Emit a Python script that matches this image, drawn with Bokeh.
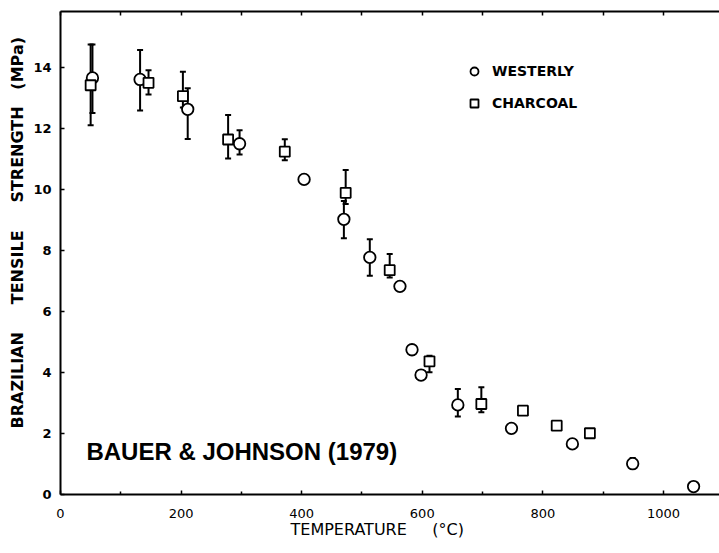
from bokeh.plotting import figure
from bokeh.models import (ColumnDataSource, Whisker, TeeHead, Legend, LegendItem,
                          Label, LinearAxis, FixedTicker, Title, CustomLabelingPolicy)
from bokeh.embed import file_html
from bokeh.resources import INLINE

# ---- data ----
westerly_T = [53, 132, 211, 297, 404, 470, 513, 563, 583, 598, 659, 748, 849, 949, 1050]
westerly_S = [13.67, 13.62, 12.64, 11.51, 10.34, 9.03, 7.78, 6.83, 4.75, 3.92, 2.94, 2.17, 1.66, 1.01, 0.26]
westerly_lo = [12.52, 12.60, 11.67, 11.16, None, 8.41, 7.18, None, None, None, 2.56, None, None, 1.01, None]
westerly_hi = [14.77, 14.59, 13.33, 11.95, None, 9.63, 8.38, None, None, None, 3.46, None, None, 1.20, None]

charcoal_T = [50, 146, 203, 278, 372, 473, 546, 612, 698, 767, 823, 878]
charcoal_S = [13.43, 13.51, 13.07, 11.65, 11.25, 9.90, 7.36, 4.37, 2.97, 2.75, 2.26, 2.01]
charcoal_lo = [12.12, 13.13, 12.70, 11.03, 10.97, 9.53, 7.12, 4.01, 2.70, None, None, None]
charcoal_hi = [14.77, 13.92, 13.87, 12.45, 11.66, 10.65, 7.89, 4.55, 3.52, None, None, None]

x_ticks = [0, 200, 400, 600, 800, 1000]
x_minor = [100, 300, 500, 700, 900]
y_ticks = [0, 2, 4, 6, 8, 10, 12, 14]

NB = "\u00a0"
x_title = "TEMPERATURE" + NB * 5 + "(°C)"
y_title = "BRAZILIAN" + NB * 5 + "TENSILE" + NB * 5 + "STRENGTH" + NB * 3 + "(MPa)"

FONT = "DejaVu Sans"

p = figure(width=719, height=553, x_range=(0, 1093), y_range=(0, 15.85),
           output_backend="svg", toolbar_location=None,
           min_border_left=60, min_border_right=0, min_border_top=9, min_border_bottom=59,
           x_axis_type=None, y_axis_type=None)
p.outline_line_color = None
p.xgrid.visible = False
p.ygrid.visible = False
p.background_fill_color = "white"
p.border_fill_color = "white"

# bottom axis
xa = LinearAxis(ticker=FixedTicker(ticks=x_ticks, minor_ticks=x_minor))
xa.axis_line_width = 2
xa.major_tick_in = 4
xa.major_tick_out = 0
xa.minor_tick_in = 3
xa.minor_tick_out = 0
xa.major_tick_line_width = 1.5
xa.minor_tick_line_width = 1.5
xa.major_label_text_font = FONT
xa.major_label_text_font_size = "13px"
xa.major_label_text_color = "black"
xa.major_label_standoff = 14
p.add_layout(xa, "below")

# top axis (ticks only, no labels)
ta = LinearAxis(ticker=FixedTicker(ticks=x_ticks + x_minor))
ta.axis_line_width = 2
ta.major_tick_in = 4
ta.major_tick_out = 0
ta.major_tick_line_width = 1.5
ta.major_label_standoff = 0
ta.major_label_policy = CustomLabelingPolicy(code="return new Set()")
p.add_layout(ta, "above")

# left axis
ya = LinearAxis(ticker=FixedTicker(ticks=y_ticks))
ya.axis_line_width = 2
ya.major_tick_in = 4
ya.major_tick_out = 0
ya.minor_tick_line_color = None
ya.major_tick_line_width = 1.5
ya.major_label_text_font = FONT
ya.major_label_text_font_size = "13px"
ya.major_label_text_font_style = "bold"
ya.major_label_text_color = "black"
ya.major_label_standoff = 9
p.add_layout(ya, "left")

# axis titles
p.add_layout(Title(text=y_title, align="left", offset=66, standoff=8,
                   text_font=FONT, text_font_size="16px", text_font_style="bold",
                   text_color="black"), "left")
p.add_layout(Title(text=x_title, align="left", offset=230, standoff=-5,
                   text_font=FONT, text_font_size="16px", text_font_style="normal",
                   text_color="black"), "below")

# error bars
def err_source(T, lo, hi):
    xs, los, his = [], [], []
    for t, l, h in zip(T, lo, hi):
        if l is not None and h is not None:
            xs.append(t); los.append(l); his.append(h)
    return ColumnDataSource(dict(x=xs, lo=los, hi=his))

for T, lo, hi in ((westerly_T, westerly_lo, westerly_hi), (charcoal_T, charcoal_lo, charcoal_hi)):
    src = err_source(T, lo, hi)
    w = Whisker(source=src, base="x", lower="lo", upper="hi", dimension="height",
                line_width=2, line_color="black", level="underlay",
                upper_head=TeeHead(size=6, line_width=2, line_color="black"),
                lower_head=TeeHead(size=6, line_width=2, line_color="black"))
    p.add_layout(w)

rw = p.scatter(westerly_T, westerly_S, marker="circle", size=11.5,
               fill_color="white", line_color="black", line_width=1.8)
rc = p.scatter(charcoal_T, charcoal_S, marker="square", size=10,
               fill_color="white", line_color="black", line_width=1.8)

legend = Legend(items=[LegendItem(label="WESTERLY", renderers=[rw]),
                       LegendItem(label="CHARCOAL", renderers=[rc])],
                location=(404, 381), padding=0, margin=0, spacing=12,
                glyph_width=20, glyph_height=20, label_height=20, label_standoff=8,
                border_line_color=None, background_fill_alpha=0,
                label_text_font=FONT, label_text_font_size="14px",
                label_text_font_style="bold", label_text_color="black")
p.add_layout(legend, "center")

p.add_layout(Label(x=43, y=1.4, text="BAUER & JOHNSON (1979)",
                   text_font="Liberation Sans", text_font_style="bold",
                   text_font_size="24px", text_color="black",
                   text_align="left", text_baseline="alphabetic"))

open("out.html", "w").write(file_html(p, INLINE))
